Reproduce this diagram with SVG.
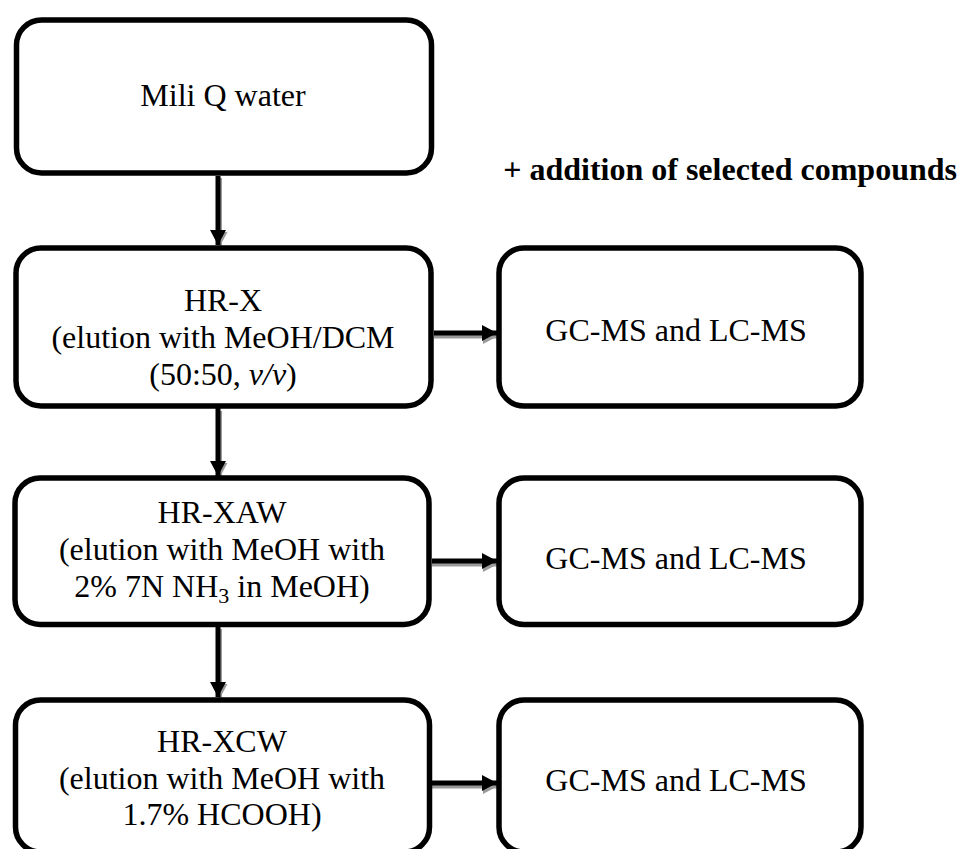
<svg xmlns="http://www.w3.org/2000/svg" width="962" height="849" viewBox="0 0 962 849">
<style>
.box{fill:#fff;stroke:#000;stroke-width:5.5}
.t{font-family:"Liberation Serif","Times New Roman",serif;font-size:32px;fill:#000;text-anchor:middle}
.b{font-family:"Liberation Serif","Times New Roman",serif;font-size:32px;font-weight:bold;fill:#000;text-anchor:end}
.ln{stroke:#000;stroke-width:5;fill:none}
.sh{stroke:#9a9a9a;stroke-width:5;fill:none}
</style>
<defs>
<marker id="ah" viewBox="0 0 10 10" refX="10" refY="5" markerUnits="userSpaceOnUse" markerWidth="15" markerHeight="16" orient="auto" preserveAspectRatio="none">
<path d="M0,0 L10,5 L0,10 Z" fill="#000"/>
</marker>
<marker id="ahs" viewBox="0 0 10 10" refX="10" refY="5" markerUnits="userSpaceOnUse" markerWidth="15" markerHeight="16" orient="auto" preserveAspectRatio="none">
<path d="M0,0 L10,5 L0,10 Z" fill="#9a9a9a"/>
</marker>
</defs>
<g id="connectors">
<line class="sh" x1="219.5" y1="178" x2="219.5" y2="247" marker-end="url(#ahs)"/>
<line class="ln" x1="218" y1="176" x2="218" y2="245" marker-end="url(#ah)"/>
<line class="sh" x1="219.5" y1="411" x2="219.5" y2="478" marker-end="url(#ahs)"/>
<line class="ln" x1="218" y1="408" x2="218" y2="476" marker-end="url(#ah)"/>
<line class="sh" x1="219.5" y1="629" x2="219.5" y2="699" marker-end="url(#ahs)"/>
<line class="ln" x1="218" y1="627" x2="218" y2="697" marker-end="url(#ah)"/>
<line class="sh" x1="434" y1="336" x2="498" y2="336" marker-end="url(#ahs)"/>
<line class="ln" x1="434" y1="333" x2="497" y2="333" marker-end="url(#ah)"/>
<line class="sh" x1="432" y1="564" x2="498" y2="564" marker-end="url(#ahs)"/>
<line class="ln" x1="432" y1="561" x2="497" y2="561" marker-end="url(#ah)"/>
<line class="sh" x1="432" y1="786" x2="498" y2="786" marker-end="url(#ahs)"/>
<line class="ln" x1="432" y1="783" x2="497" y2="783" marker-end="url(#ah)"/>
</g>
<g id="n1">
<rect class="box" x="16.5" y="20" width="415" height="153" rx="25"/>
<text class="t" x="223" y="106">Mili Q water</text>
</g>
<text id="note" class="b" x="957" y="180">+ addition of selected compounds</text>
<g id="n2">
<rect class="box" x="16" y="248" width="415" height="158" rx="25"/>
<text class="t" x="223" y="311">HR-X</text>
<text class="t" x="223" y="348">(elution with MeOH/DCM</text>
<text class="t" x="223" y="385">(50:50, <tspan font-style="italic">v/v</tspan>)</text>
</g>
<g id="g1">
<rect class="box" x="499" y="248" width="362" height="158" rx="25"/>
<text class="t" x="676" y="341">GC-MS and LC-MS</text>
</g>
<g id="n3">
<rect class="box" x="15" y="478" width="414" height="146.5" rx="25"/>
<text class="t" x="222" y="523">HR-XAW</text>
<text class="t" x="222" y="560">(elution with MeOH with</text>
<text class="t" x="222" y="597">2% 7N NH<tspan font-size="22" dy="6">3</tspan><tspan dy="-6"> in MeOH)</tspan></text>
</g>
<g id="g2">
<rect class="box" x="499" y="478" width="362" height="146.5" rx="25"/>
<text class="t" x="676" y="569">GC-MS and LC-MS</text>
</g>
<g id="n4">
<rect class="box" x="15.5" y="700" width="414" height="152" rx="25"/>
<text class="t" x="222" y="752">HR-XCW</text>
<text class="t" x="222" y="789">(elution with MeOH with</text>
<text class="t" x="222" y="825">1.7% HCOOH)</text>
</g>
<g id="g3">
<rect class="box" x="499" y="700" width="362" height="152" rx="25"/>
<text class="t" x="676" y="791">GC-MS and LC-MS</text>
</g>
</svg>
